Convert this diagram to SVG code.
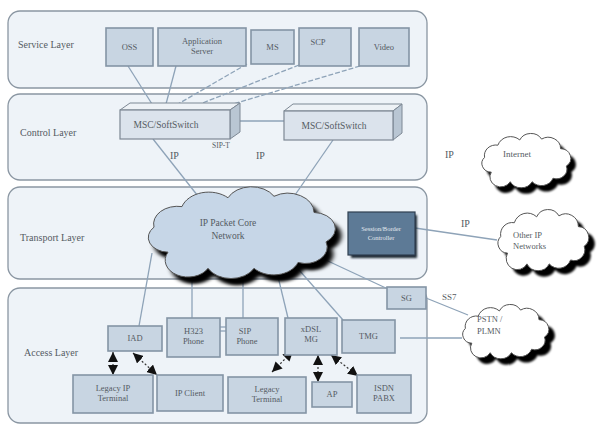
<svg xmlns="http://www.w3.org/2000/svg" width="601" height="425" viewBox="0 0 601 425">
<style>
.panel{fill:#eef3f8;stroke:#8a96a2;stroke-width:1.3}
.box{fill:#c8d5e2;stroke:#8494a5;stroke-width:1.6}
.lbl{font-family:"Liberation Serif","Times New Roman",serif;font-size:10px;fill:#555b63}
.bt{font-family:"Liberation Serif","Times New Roman",serif;font-size:8.5px;fill:#555b63;text-anchor:middle}
.ln{stroke:#8ea3b8;stroke-width:1.3;fill:none}
.dl{stroke:#8ea3b8;stroke-width:1.3;fill:none;stroke-dasharray:5 2}
.ar{stroke:#333;stroke-width:1.2;fill:none;stroke-dasharray:2 2;marker-start:url(#ah);marker-end:url(#ah)}
.cl{stroke:#555;stroke-width:1}
</style>
<defs>
<marker id="ah" viewBox="0 0 10 10" refX="10" refY="5" markerWidth="10" markerHeight="10" markerUnits="userSpaceOnUse" orient="auto-start-reverse"><path d="M0,0 L10,5 L0,10 z" fill="#111"/></marker>
<path id="cloud" vector-effect="non-scaling-stroke" d="M15,45 A10,10 0 0 1 8,28 A12,12 0 0 1 22,14 A14,14 0 0 1 45,8 A13,13 0 0 1 68,7 A13,13 0 0 1 88,18 A11,11 0 0 1 94,38 A11,11 0 0 1 80,52 A13,13 0 0 1 58,56 A13,13 0 0 1 35,56 A11,11 0 0 1 15,45 Z"/>
<filter id="blur" x="-10%" y="-10%" width="120%" height="120%"><feGaussianBlur stdDeviation="1.2"/></filter>
</defs>
<rect width="601" height="425" fill="#ffffff"/>

<g id="layers">
<rect class="panel" x="8" y="11" width="419" height="77" rx="12"/>
<text class="lbl" x="18" y="48">Service Layer</text>
<rect class="panel" x="8" y="94" width="419" height="86" rx="12"/>
<text class="lbl" x="20" y="136">Control Layer</text>
<rect class="panel" x="8" y="187" width="419" height="92" rx="12"/>
<text class="lbl" x="20" y="241">Transport Layer</text>
<rect class="panel" x="8" y="288" width="419" height="135" rx="12"/>
<text class="lbl" x="24" y="356">Access Layer</text>
</g>

<g id="connectors">
<line class="ln" x1="128" y1="66" x2="152" y2="104"/>
<line class="ln" x1="176" y1="66" x2="166" y2="104"/>
<line class="dl" x1="247" y1="64" x2="178" y2="104"/>
<line class="dl" x1="299" y1="65" x2="200" y2="104"/>
<line class="dl" x1="360" y1="66" x2="233" y2="104"/>
<line class="ln" x1="240" y1="121" x2="284" y2="121"/>
<line class="ln" x1="153" y1="139" x2="205" y2="205"/>
<line class="ln" x1="333" y1="140" x2="295" y2="195"/>
<line class="ln" x1="415" y1="228" x2="497" y2="240"/>
<line class="ln" x1="315" y1="255" x2="388" y2="289"/>
<line class="ln" x1="426" y1="298" x2="468" y2="315"/>
<line class="ln" x1="400" y1="338" x2="462" y2="338"/>
<line class="ln" x1="152" y1="253" x2="139" y2="326"/>
<line class="ln" x1="192" y1="262" x2="192" y2="318"/>
<line class="ln" x1="243" y1="262" x2="243" y2="318"/>
<line class="ln" x1="274" y1="260" x2="288" y2="318"/>
<line class="ln" x1="292" y1="262" x2="343" y2="320"/>
<line class="ln" x1="220" y1="327" x2="226" y2="327"/>
<line class="ln" x1="220" y1="331" x2="226" y2="331"/>
<line class="ar" x1="113" y1="352" x2="113" y2="375"/>
<line class="ar" x1="133" y1="353" x2="157" y2="375"/>
<line class="ar" x1="293" y1="351" x2="272" y2="372"/>
<line class="ar" x1="318" y1="355" x2="318" y2="382"/>
<line class="ar" x1="331" y1="355" x2="358" y2="376"/>
<text class="lbl" x="212" y="148" style="font-size:7.5px">SIP-T</text>
<text class="lbl" x="170" y="159">IP</text>
<text class="lbl" x="256" y="159">IP</text>
<text class="lbl" x="445" y="158">IP</text>
<text class="lbl" x="461" y="227">IP</text>
<text class="lbl" x="442" y="300" style="font-size:9px">SS7</text>
</g>

<g id="oss"><rect class="box" x="106" y="28" width="47" height="38"/><text class="bt" x="129.5" y="50">OSS</text></g>
<g id="appserver"><rect class="box" x="158" y="28" width="88" height="38"/><text class="bt" x="202" y="44">Application</text><text class="bt" x="202" y="54">Server</text></g>
<g id="ms"><rect class="box" x="251" y="30" width="43" height="34"/><text class="bt" x="272.5" y="50">MS</text></g>
<g id="scp"><rect class="box" x="299" y="28" width="52" height="38"/><text class="bt" x="318" y="45">SCP</text></g>
<g id="video"><rect class="box" x="359" y="28" width="50" height="38"/><text class="bt" x="384" y="50">Video</text></g>

<g id="msc1">
<polygon points="120,110 130,103 240,103 230,110" fill="#eef2f6" stroke="#7d8894" stroke-width="1"/>
<polygon points="230,110 240,103 240,132 230,139" fill="#b9c6d3" stroke="#7d8894" stroke-width="1"/>
<rect x="120" y="110" width="110" height="29" fill="#dbe3ec" stroke="#7d8894" stroke-width="1.2"/>
<text class="bt" x="166" y="128" style="font-size:9.5px">MSC/SoftSwitch</text>
</g>
<g id="msc2">
<polygon points="284,111 293,104 402,104 393,111" fill="#eef2f6" stroke="#7d8894" stroke-width="1"/>
<polygon points="393,111 402,104 402,133 393,140" fill="#b9c6d3" stroke="#7d8894" stroke-width="1"/>
<rect x="284" y="111" width="109" height="29" fill="#dbe3ec" stroke="#7d8894" stroke-width="1.2"/>
<text class="bt" x="334" y="129" style="font-size:9.5px">MSC/SoftSwitch</text>
</g>

<g id="internet">
<use href="#cloud" transform="translate(482,139) scale(0.95,0.87)" fill="#000" filter="url(#blur)"/>
<use href="#cloud" class="cl" transform="translate(477,133) scale(0.95,0.87)" fill="#ffffff"/>
<text class="bt" x="517" y="157" style="font-size:9px">Internet</text>
</g>

<g id="ipcore">
<use href="#cloud" transform="translate(144,193) scale(2.0,1.47)" fill="#000" filter="url(#blur)"/>
<use href="#cloud" class="cl" transform="translate(138,186) scale(2.0,1.47)" fill="#c6d6e7"/>
<text class="bt" x="228" y="226" style="font-size:9.5px">IP Packet Core</text>
<text class="bt" x="228" y="239" style="font-size:9.5px">Network</text>
</g>

<g id="sbc">
<rect x="351" y="215" width="66" height="43" fill="#1e2a36" filter="url(#blur)"/>
<rect x="348" y="212" width="67" height="43" fill="#5d7a96" stroke="#2f3f50" stroke-width="1.2"/>
<text class="bt" x="381" y="231" style="font-size:6.5px;fill:#e4eaf0">Session/Border</text>
<text class="bt" x="381" y="240" style="font-size:6.5px;fill:#e4eaf0">Controller</text>
</g>

<g id="otherip">
<use href="#cloud" transform="translate(499,215) scale(0.97,0.98)" fill="#000" filter="url(#blur)"/>
<use href="#cloud" class="cl" transform="translate(493,209) scale(0.97,0.98)" fill="#ffffff"/>
<text class="lbl" x="513" y="238" style="font-size:8.5px">Other IP</text>
<text class="lbl" x="513" y="249" style="font-size:8.5px">Networks</text>
</g>

<g id="pstn">
<use href="#cloud" transform="translate(464,310) scale(0.92,0.87)" fill="#000" filter="url(#blur)"/>
<use href="#cloud" class="cl" transform="translate(458,304) scale(0.92,0.87)" fill="#ffffff"/>
<text class="lbl" x="477" y="322" style="font-size:8.5px">PSTN /</text>
<text class="lbl" x="477" y="334" style="font-size:8.5px">PLMN</text>
</g>

<g id="sg"><rect class="box" x="387" y="287" width="39" height="22"/><text class="bt" x="406.5" y="301">SG</text></g>
<g id="tmg"><rect class="box" x="342" y="320" width="53" height="33"/><text class="bt" x="368.5" y="339">TMG</text></g>
<g id="iad"><rect class="box" x="108" y="326" width="54" height="25"/><text class="bt" x="135" y="341">IAD</text></g>
<g id="h323"><rect class="box" x="167" y="318" width="53" height="39"/><text class="bt" x="193.5" y="334">H323</text><text class="bt" x="193.5" y="344">Phone</text></g>
<g id="sipphone"><rect class="box" x="226" y="318" width="52" height="37"/><text class="bt" x="245" y="334">SIP</text><text class="bt" x="247" y="344">Phone</text></g>
<g id="xdsl"><rect class="box" x="285" y="318" width="52" height="37"/><text class="bt" x="311" y="332">xDSL</text><text class="bt" x="311" y="342">MG</text></g>
<g id="legacyip"><rect class="box" x="73" y="375" width="80" height="38"/><text class="bt" x="113" y="391">Legacy IP</text><text class="bt" x="113" y="401">Terminal</text></g>
<g id="ipclient"><rect class="box" x="157" y="375" width="66" height="36"/><text class="bt" x="190" y="396">IP Client</text></g>
<g id="legacyterm"><rect class="box" x="228" y="377" width="78" height="36"/><text class="bt" x="267" y="392">Legacy</text><text class="bt" x="267" y="402">Terminal</text></g>
<g id="ap"><rect class="box" x="312" y="382" width="40" height="25"/><text class="bt" x="332" y="397">AP</text></g>
<g id="isdn"><rect class="box" x="357" y="375" width="54" height="38"/><text class="bt" x="384" y="391">ISDN</text><text class="bt" x="384" y="401">PABX</text></g>
</svg>
